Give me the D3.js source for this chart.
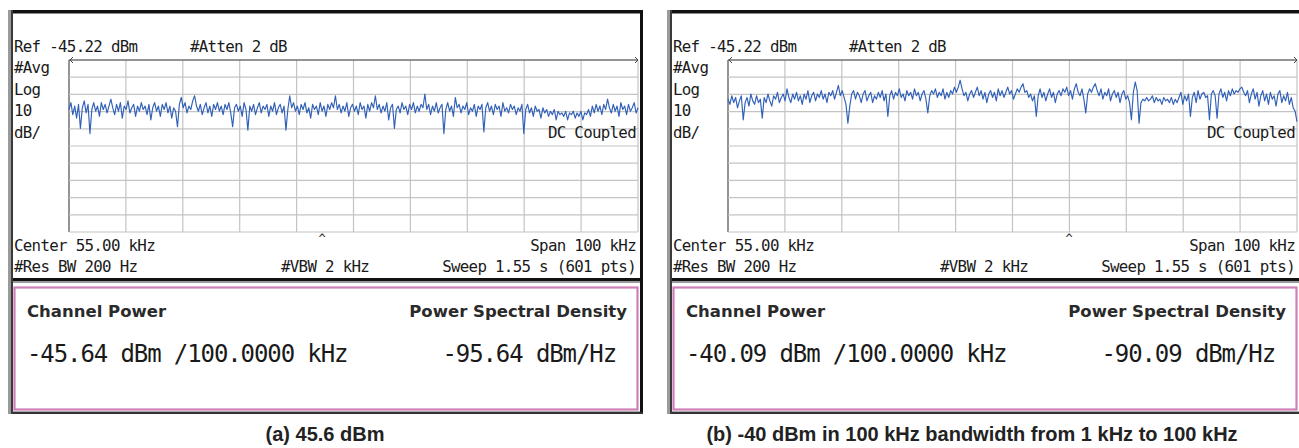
<!DOCTYPE html>
<html><head><meta charset="utf-8">
<script src="https://cdn.jsdelivr.net/npm/d3@7/dist/d3.min.js"></script>
<style>
html,body{margin:0;padding:0;background:#fff;}
svg{display:block;}
.mono{font-family:"DejaVu Sans Mono",monospace;fill:#1a1a1a;}
.lbl{font-family:"DejaVu Sans",sans-serif;font-weight:bold;fill:#2a2a2a;}
.cap{font-family:"Liberation Sans",Arial,sans-serif;font-weight:bold;fill:#222;}
</style></head>
<body>
<svg id="chart" width="1299" height="448"></svg>
<script>
// ---- data ----
const panels = ["a", "b"];
const refLevel = [-45.22, -45.22];       // dBm
const centerKHz = [55, 55];
const spanKHz = [100, 100];
const channelPower = ["-45.64 dBm /100.0000 kHz", "-40.09 dBm /100.0000 kHz"];
const psdText = ["-95.64 dBm/Hz", "-90.09 dBm/Hz"];
const captions = ["(a) 45.6 dBm", "(b) -40 dBm in 100 kHz bandwidth from 1 kHz to 100 kHz"];

const traceA = [
-74,-70,-77,-72,-79,-71,-85,-73,-69,-76,-71,-88,-74,-70,-75,-72,-78,-70,-74,-71,
-76,-72,-68,-73,-77,-71,-75,-70,-79,-72,-74,-69,-76,-73,-71,-78,-72,-75,-70,-74,
-72,-77,-71,-80,-73,-70,-75,-72,-78,-71,-74,-70,-76,-72,-79,-73,-75,-84,-71,-67,
-73,-70,-76,-72,-74,-69,-66,-72,-75,-71,-77,-73,-70,-76,-72,-78,-71,-74,-70,-75,
-72,-77,-71,-74,-70,-76,-84,-73,-71,-75,-72,-78,-70,-74,-86,-72,-75,-71,-77,-73,
-70,-76,-72,-74,-71,-78,-72,-75,-70,-77,-73,-71,-76,-72,-86,-74,-66,-73,-70,-75,
-72,-77,-71,-74,-70,-76,-73,-79,-71,-74,-72,-77,-70,-75,-72,-78,-71,-74,-70,-73,
-66,-74,-71,-76,-72,-75,-70,-78,-73,-71,-75,-72,-77,-70,-74,-72,-79,-71,-75,-70,
-73,-66,-74,-71,-76,-72,-75,-70,-80,-73,-71,-85,-74,-72,-76,-70,-74,-72,-77,-71,
-74,-70,-76,-72,-75,-71,-73,-65,-74,-71,-77,-72,-75,-70,-76,-73,-71,-88,-74,-70,
-75,-72,-78,-67,-73,-71,-76,-72,-74,-70,-77,-73,-75,-71,-78,-72,-74,-71,-87,-73,
-70,-75,-72,-77,-71,-74,-72,-78,-70,-75,-73,-76,-71,-74,-72,-77,-73,-75,-71,-88,
-74,-71,-76,-73,-78,-72,-75,-74,-79,-73,-76,-74,-78,-75,-77,-74,-80,-75,-77,-76,
-78,-75,-80,-76,-77,-75,-79,-76,-78,-75,-80,-76,-77,-74,-78,-72,-76,-71,-75,-72,
-77,-71,-74,-68,-73,-76,-71,-75,-72,-78,-70,-74,-72,-77,-71,-75,-73,-70,-76,-73];

const traceB = [
-68,-71,-66,-70,-67,-73,-69,-66,-80,-70,-67,-72,-65,-69,-71,-66,-70,-68,-79,-67,
-70,-65,-69,-72,-66,-68,-64,-70,-67,-65,-69,-62,-67,-70,-65,-68,-64,-69,-66,-71,
-65,-68,-63,-70,-66,-64,-69,-65,-67,-63,-68,-65,-70,-64,-66,-63,-68,-64,-60,-66,
-63,-67,-71,-82,-72,-65,-63,-68,-64,-66,-70,-65,-63,-69,-66,-64,-70,-66,-68,-64,
-67,-63,-69,-65,-78,-66,-63,-68,-64,-66,-62,-67,-65,-69,-63,-66,-64,-68,-62,-66,
-64,-69,-65,-63,-68,-76,-66,-63,-65,-62,-67,-64,-66,-62,-68,-64,-67,-63,-65,-61,
-64,-61,-57,-62,-66,-64,-69,-65,-63,-67,-64,-61,-66,-63,-68,-64,-70,-65,-63,-67,
-64,-69,-62,-66,-63,-67,-64,-61,-65,-63,-68,-65,-62,-64,-61,-59,-64,-63,-67,-65,
-69,-66,-78,-66,-62,-67,-64,-69,-65,-62,-67,-64,-70,-65,-63,-66,-62,-64,-61,-66,
-63,-68,-62,-59,-64,-66,-62,-68,-76,-65,-62,-64,-61,-59,-63,-66,-62,-68,-64,-66,
-62,-69,-65,-63,-67,-64,-70,-65,-63,-68,-66,-70,-80,-64,-58,-63,-82,-70,-68,-69,
-67,-69,-68,-66,-70,-67,-69,-68,-71,-67,-69,-68,-70,-67,-71,-68,-70,-67,-64,-71,
-66,-69,-65,-78,-67,-64,-70,-63,-68,-65,-64,-67,-66,-80,-65,-63,-66,-79,-65,-62,
-67,-64,-69,-63,-66,-62,-65,-63,-64,-62,-61,-64,-66,-63,-70,-65,-62,-68,-64,-72,
-66,-63,-69,-65,-71,-64,-68,-66,-72,-65,-63,-70,-66,-69,-64,-71,-67,-73,-75,-81];

const traces = [traceA, traceB];

// ---- drawing ----
const svg = d3.select("#chart");
const panelDX = [0, 659];

function drawPanel(k) {
  const dx = panelDX[k];
  const g = svg.append("g").attr("transform", `translate(${dx},0)`);
  const ref = refLevel[k];
  const f0 = centerKHz[k] - spanKHz[k] / 2, f1 = centerKHz[k] + spanKHz[k] / 2;
  const x = d3.scaleLinear().domain([f0, f1]).range([69, 638]);
  const y = d3.scaleLinear().domain([ref, ref - 100]).range([60, 232]);

  // outer frame
  g.append("rect").attr("x", 8).attr("y", 10).attr("width", 3).attr("height", 404).attr("fill", "#9a9a9a");
  g.append("rect").attr("x", 11).attr("y", 10).attr("width", 2).attr("height", 404).attr("fill", "#3a3a3a");
  g.append("rect").attr("x", 13).attr("y", 10).attr("width", 630).attr("height", 3).attr("fill", "#111");
  g.append("rect").attr("x", 13).attr("y", 13).attr("width", 627).attr("height", 1).attr("fill", "#888");
  g.append("rect").attr("x", 640).attr("y", 10).attr("width", 3).attr("height", 404).attr("fill", "#111");
  g.append("rect").attr("x", 13).attr("y", 278).attr("width", 627).attr("height", 3).attr("fill", "#111");
  g.append("rect").attr("x", 13).attr("y", 281).attr("width", 627).attr("height", 2).attr("fill", "#999");
  g.append("rect").attr("x", 13).attr("y", 412).attr("width", 630).attr("height", 2).attr("fill", "#333");
  g.append("rect").attr("x", 13).attr("y", 411).attr("width", 627).attr("height", 1).attr("fill", "#aaa");
  // pink box
  g.append("rect").attr("x", 14.5).attr("y", 287.5).attr("width", 623).attr("height", 122)
    .attr("fill", "none").attr("stroke", "#cf7fb7").attr("stroke-width", 2.2);

  // grid
  const vt = d3.range(0, 11).map(i => f0 + i * spanKHz[k] / 10);
  const ht = d3.range(0, 11).map(i => ref - i * 10);
  g.append("g").selectAll("line").data(vt).join("line")
    .attr("x1", d => x(d)).attr("x2", d => x(d)).attr("y1", 60).attr("y2", 232)
    .attr("stroke", d => d === f0 ? "#707070" : "#c4c4c4").attr("stroke-width", d => d === f0 ? 1.5 : 1.2);
  g.append("g").selectAll("line").data(ht).join("line")
    .attr("x1", 69).attr("x2", 638).attr("y1", d => y(d)).attr("y2", d => y(d))
    .attr("stroke", d => d === ref ? "#707070" : "#c4c4c4").attr("stroke-width", d => d === ref ? 1.5 : 1.2);
  g.append("path").attr("d", `M${x(f0)+4},${y(ref)-3} L${x(f0)+1},${y(ref)} L${x(f0)+4},${y(ref)+3}`)
    .attr("fill", "none").attr("stroke", "#444").attr("stroke-width", 1);
  g.append("path").attr("d", `M${x(f1)-3},${y(ref)-3} L${x(f1)},${y(ref)} L${x(f1)-3},${y(ref)+3}`)
    .attr("fill", "none").attr("stroke", "#444").attr("stroke-width", 1);

  // trace
  const data = traces[k];
  const n = data.length;
  const line = d3.line()
    .x((d, i) => x(f0 + i * spanKHz[k] / (n - 1)))
    .y(d => y(d));
  g.append("path").datum(data).attr("d", line)
    .attr("fill", "none").attr("stroke", "#3160b8").attr("stroke-width", 1.15).attr("stroke-linejoin", "round");

  // texts
  const t = (txt, xx, yy, anchor, size, cls, ls) => g.append("text").attr("class", cls || "mono")
    .attr("x", xx).attr("y", yy).attr("text-anchor", anchor || "start")
    .attr("letter-spacing", ls === undefined ? -0.7 : ls)
    .attr("font-size", size || 15.8).text(txt);
  t(`Ref ${ref.toFixed(2)} dBm`, 14, 52);
  t("#Atten 2 dB", 190, 52);
  t("#Avg", 14, 73);
  t("Log", 14, 95);
  t("10", 14, 116);
  t("dB/", 14, 138);
  t("DC Coupled", 636, 138, "end");
  t(`Center ${centerKHz[k].toFixed(2)} kHz`, 14, 251);
  t("^", k === 0 ? 322 : 410, 243, "middle", 12, "mono", 0);
  t(`Span ${spanKHz[k]} kHz`, 636, 251, "end");
  t("#Res BW 200 Hz", 14, 272);
  t("#VBW 2 kHz", 281, 272);
  t("Sweep 1.55 s (601 pts)", 636, 272, "end");

  t("Channel Power", 27, 317, "start", 16.5, "lbl", 0);
  t("Power Spectral Density", 627, 317, "end", 16.5, "lbl", 0);
  t(channelPower[k], 27, 362, "start", 24, "mono", -1.1);
  t(psdText[k], 616, 362, "end", 24, "mono", -1.1);

  t(captions[k], k === 0 ? 325 : 313, 441, "middle", 20, "cap", 0);
}
panels.forEach((p, k) => drawPanel(k));
</script>
</body></html>
